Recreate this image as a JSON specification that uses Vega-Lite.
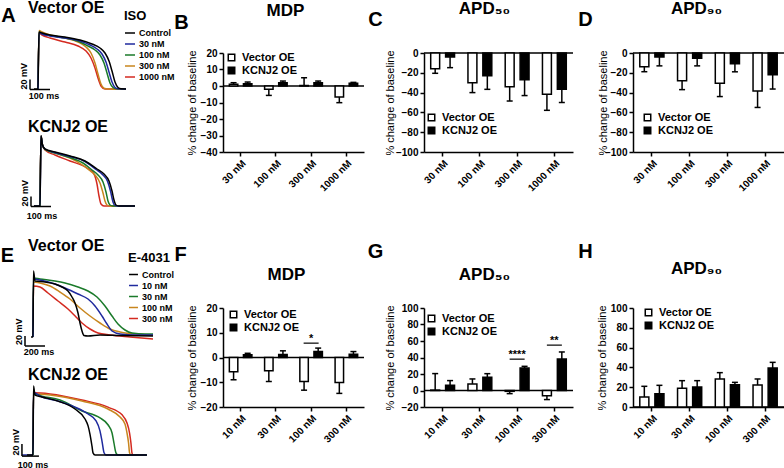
{
"$schema": "https://vega.github.io/schema/vega-lite/v6.json",
"padding": 0,
"config": {
 "font": "Liberation Sans",
 "view": {"stroke": null},
 "axis": {"domainColor": "black", "domainWidth": 1.5, "tickColor": "black", "tickWidth": 1.5, "tickSize": 4, "labelColor": "black", "labelFontSize": 10, "labelFontWeight": "bold", "grid": false, "titleColor": "black"},
 "axisX": {"labelAngle": -45, "titleFontSize": 20, "titleFontWeight": "bold", "titleAlign": "center", "titleBaseline": "middle", "labelPadding": 2},
 "axisY": {"titleFontSize": 11, "titleFontWeight": "normal", "titleBaseline": "middle", "labelPadding": 2},
 "title": {"fontSize": 17, "fontWeight": "bold", "color": "black", "baseline": "alphabetic"},
 "legend": {"labelColor": "black", "titleColor": "black"}
},
"datasets": {
 "isoVec": [
  {"c":"1000 nM","t":0,"v":-80},{"c":"1000 nM","t":5,"v":32},{"c":"1000 nM","t":20,"v":28},{"c":"1000 nM","t":60,"v":22},{"c":"1000 nM","t":135,"v":14},{"c":"1000 nM","t":200,"v":6},{"c":"1000 nM","t":240,"v":-4},{"c":"1000 nM","t":265,"v":-18},{"c":"1000 nM","t":285,"v":-38},{"c":"1000 nM","t":300,"v":-58},{"c":"1000 nM","t":315,"v":-74},{"c":"1000 nM","t":335,"v":-80},{"c":"1000 nM","t":440,"v":-80},
  {"c":"300 nM","t":0,"v":-80},{"c":"300 nM","t":5,"v":37},{"c":"300 nM","t":20,"v":34},{"c":"300 nM","t":60,"v":28},{"c":"300 nM","t":135,"v":22},{"c":"300 nM","t":200,"v":14},{"c":"300 nM","t":240,"v":4},{"c":"300 nM","t":265,"v":-8},{"c":"300 nM","t":285,"v":-28},{"c":"300 nM","t":300,"v":-50},{"c":"300 nM","t":315,"v":-70},{"c":"300 nM","t":330,"v":-78.6},{"c":"300 nM","t":350,"v":-80},{"c":"300 nM","t":440,"v":-80},
  {"c":"100 nM","t":0,"v":-80},{"c":"100 nM","t":5,"v":34},{"c":"100 nM","t":20,"v":31},{"c":"100 nM","t":60,"v":27},{"c":"100 nM","t":135,"v":22},{"c":"100 nM","t":210,"v":14},{"c":"100 nM","t":250,"v":6},{"c":"100 nM","t":285,"v":-2},{"c":"100 nM","t":310,"v":-12},{"c":"100 nM","t":330,"v":-28},{"c":"100 nM","t":345,"v":-48},{"c":"100 nM","t":360,"v":-68},{"c":"100 nM","t":375,"v":-77},{"c":"100 nM","t":390,"v":-79.6},{"c":"100 nM","t":440,"v":-80},
  {"c":"30 nM","t":0,"v":-80},{"c":"30 nM","t":5,"v":33},{"c":"30 nM","t":20,"v":30},{"c":"30 nM","t":60,"v":26},{"c":"30 nM","t":135,"v":22},{"c":"30 nM","t":210,"v":16},{"c":"30 nM","t":260,"v":8},{"c":"30 nM","t":295,"v":0},{"c":"30 nM","t":320,"v":-10},{"c":"30 nM","t":340,"v":-26},{"c":"30 nM","t":355,"v":-46},{"c":"30 nM","t":370,"v":-66},{"c":"30 nM","t":385,"v":-77},{"c":"30 nM","t":400,"v":-79.6},{"c":"30 nM","t":440,"v":-80},
  {"c":"Control","t":-20,"v":-80},{"c":"Control","t":0,"v":-80},{"c":"Control","t":5,"v":34},{"c":"Control","t":20,"v":32},{"c":"Control","t":60,"v":28},{"c":"Control","t":135,"v":24},{"c":"Control","t":210,"v":18},{"c":"Control","t":270,"v":10},{"c":"Control","t":310,"v":2},{"c":"Control","t":335,"v":-8},{"c":"Control","t":355,"v":-24},{"c":"Control","t":370,"v":-44},{"c":"Control","t":385,"v":-66},{"c":"Control","t":400,"v":-77},{"c":"Control","t":415,"v":-79.6},{"c":"Control","t":440,"v":-80}
 ],
 "isoK": [
  {"c":"1000 nM","t":0,"v":-80},{"c":"1000 nM","t":5,"v":60},{"c":"1000 nM","t":12.5,"v":42},{"c":"1000 nM","t":25,"v":32},{"c":"1000 nM","t":75,"v":22},{"c":"1000 nM","t":150,"v":10},{"c":"1000 nM","t":235,"v":-4},{"c":"1000 nM","t":270,"v":-16},{"c":"1000 nM","t":285,"v":-36},{"c":"1000 nM","t":295,"v":-60},{"c":"1000 nM","t":305,"v":-76},{"c":"1000 nM","t":320,"v":-80},{"c":"1000 nM","t":475,"v":-80},
  {"c":"300 nM","t":0,"v":-80},{"c":"300 nM","t":5,"v":60},{"c":"300 nM","t":12.5,"v":42},{"c":"300 nM","t":25,"v":33},{"c":"300 nM","t":75,"v":26},{"c":"300 nM","t":150,"v":16},{"c":"300 nM","t":205,"v":4},{"c":"300 nM","t":245,"v":-8},{"c":"300 nM","t":275,"v":-18},{"c":"300 nM","t":300,"v":-34},{"c":"300 nM","t":315,"v":-54},{"c":"300 nM","t":325,"v":-70},{"c":"300 nM","t":335,"v":-78},{"c":"300 nM","t":350,"v":-80},{"c":"300 nM","t":475,"v":-80},
  {"c":"100 nM","t":0,"v":-80},{"c":"100 nM","t":5,"v":60},{"c":"100 nM","t":12.5,"v":42},{"c":"100 nM","t":25,"v":33},{"c":"100 nM","t":75,"v":26},{"c":"100 nM","t":150,"v":17},{"c":"100 nM","t":215,"v":6},{"c":"100 nM","t":260,"v":-8},{"c":"100 nM","t":290,"v":-18},{"c":"100 nM","t":315,"v":-32},{"c":"100 nM","t":330,"v":-52},{"c":"100 nM","t":340,"v":-70},{"c":"100 nM","t":350,"v":-78},{"c":"100 nM","t":365,"v":-80},{"c":"100 nM","t":475,"v":-80},
  {"c":"30 nM","t":-30,"v":-80},{"c":"30 nM","t":0,"v":-80},{"c":"30 nM","t":5,"v":60},{"c":"30 nM","t":12.5,"v":42},{"c":"30 nM","t":25,"v":34},{"c":"30 nM","t":75,"v":27},{"c":"30 nM","t":150,"v":19},{"c":"30 nM","t":225,"v":9},{"c":"30 nM","t":280,"v":-7},{"c":"30 nM","t":312,"v":-17},{"c":"30 nM","t":338,"v":-31},{"c":"30 nM","t":353,"v":-51},{"c":"30 nM","t":363,"v":-69},{"c":"30 nM","t":372,"v":-78},{"c":"30 nM","t":385,"v":-80},{"c":"30 nM","t":475,"v":-80},
  {"c":"Control","t":-30,"v":-80},{"c":"Control","t":0,"v":-80},{"c":"Control","t":5,"v":60},{"c":"Control","t":12.5,"v":42},{"c":"Control","t":25,"v":34},{"c":"Control","t":75,"v":28},{"c":"Control","t":150,"v":20},{"c":"Control","t":225,"v":10},{"c":"Control","t":285,"v":-6},{"c":"Control","t":320,"v":-16},{"c":"Control","t":345,"v":-30},{"c":"Control","t":360,"v":-50},{"c":"Control","t":370,"v":-68},{"c":"Control","t":380,"v":-78},{"c":"Control","t":395,"v":-80},{"c":"Control","t":475,"v":-80}
 ],
 "e4Vec": [
  {"c":"300 nM","t":0,"v":-80},{"c":"300 nM","t":5,"v":22},{"c":"300 nM","t":70,"v":20},{"c":"300 nM","t":150,"v":8},{"c":"300 nM","t":250,"v":-8},{"c":"300 nM","t":350,"v":-24},{"c":"300 nM","t":430,"v":-40},{"c":"300 nM","t":490,"v":-52},{"c":"300 nM","t":570,"v":-64},{"c":"300 nM","t":650,"v":-72},{"c":"300 nM","t":770,"v":-76},{"c":"300 nM","t":970,"v":-80},{"c":"300 nM","t":1200,"v":-84},
  {"c":"100 nM","t":0,"v":-80},{"c":"100 nM","t":5,"v":30},{"c":"100 nM","t":70,"v":28},{"c":"100 nM","t":170,"v":22},{"c":"100 nM","t":270,"v":10},{"c":"100 nM","t":370,"v":-4},{"c":"100 nM","t":470,"v":-22},{"c":"100 nM","t":570,"v":-38},{"c":"100 nM","t":670,"v":-52},{"c":"100 nM","t":770,"v":-64},{"c":"100 nM","t":870,"v":-70},{"c":"100 nM","t":1020,"v":-74},{"c":"100 nM","t":1200,"v":-76},
  {"c":"30 nM","t":0,"v":-80},{"c":"30 nM","t":5,"v":38},{"c":"30 nM","t":70,"v":36},{"c":"30 nM","t":220,"v":32},{"c":"30 nM","t":320,"v":28},{"c":"30 nM","t":450,"v":20},{"c":"30 nM","t":550,"v":12},{"c":"30 nM","t":640,"v":0},{"c":"30 nM","t":720,"v":-18},{"c":"30 nM","t":790,"v":-38},{"c":"30 nM","t":850,"v":-54},{"c":"30 nM","t":920,"v":-66},{"c":"30 nM","t":990,"v":-72},{"c":"30 nM","t":1120,"v":-74},{"c":"30 nM","t":1200,"v":-74},
  {"c":"10 nM","t":0,"v":-80},{"c":"10 nM","t":5,"v":36},{"c":"10 nM","t":70,"v":34},{"c":"10 nM","t":220,"v":26},{"c":"10 nM","t":320,"v":18},{"c":"10 nM","t":450,"v":6},{"c":"10 nM","t":550,"v":-4},{"c":"10 nM","t":620,"v":-18},{"c":"10 nM","t":690,"v":-38},{"c":"10 nM","t":740,"v":-54},{"c":"10 nM","t":790,"v":-68},{"c":"10 nM","t":870,"v":-74},{"c":"10 nM","t":1020,"v":-76},{"c":"10 nM","t":1200,"v":-76},
  {"c":"Control","t":-20,"v":-80},{"c":"Control","t":0,"v":-80},{"c":"Control","t":5,"v":52},{"c":"Control","t":20,"v":32},{"c":"Control","t":120,"v":30},{"c":"Control","t":220,"v":26},{"c":"Control","t":290,"v":20},{"c":"Control","t":350,"v":12},{"c":"Control","t":390,"v":0},{"c":"Control","t":420,"v":-12},{"c":"Control","t":450,"v":-32},{"c":"Control","t":470,"v":-52},{"c":"Control","t":490,"v":-68},{"c":"Control","t":510,"v":-77},{"c":"Control","t":550,"v":-78},{"c":"Control","t":670,"v":-76},{"c":"Control","t":870,"v":-77},{"c":"Control","t":1200,"v":-78}
 ],
 "e4K": [
  {"c":"300 nM","t":0,"v":-80},{"c":"300 nM","t":3,"v":33},{"c":"300 nM","t":100,"v":31},{"c":"300 nM","t":288,"v":20},{"c":"300 nM","t":441,"v":7},{"c":"300 nM","t":524,"v":-7},{"c":"300 nM","t":553,"v":-22},{"c":"300 nM","t":568,"v":-40},{"c":"300 nM","t":576,"v":-58},{"c":"300 nM","t":582,"v":-76},{"c":"300 nM","t":588,"v":-80},{"c":"300 nM","t":670,"v":-80},
  {"c":"100 nM","t":0,"v":-80},{"c":"100 nM","t":3,"v":31},{"c":"100 nM","t":100,"v":29},{"c":"100 nM","t":288,"v":18},{"c":"100 nM","t":441,"v":3.6},{"c":"100 nM","t":512,"v":-11},{"c":"100 nM","t":541,"v":-23.6},{"c":"100 nM","t":553,"v":-40},{"c":"100 nM","t":562,"v":-58},{"c":"100 nM","t":568,"v":-76},{"c":"100 nM","t":576,"v":-80},{"c":"100 nM","t":670,"v":-80},
  {"c":"30 nM","t":0,"v":-80},{"c":"30 nM","t":3,"v":31},{"c":"30 nM","t":53,"v":27},{"c":"30 nM","t":159,"v":20},{"c":"30 nM","t":288,"v":0},{"c":"30 nM","t":394,"v":-12.7},{"c":"30 nM","t":441,"v":-25},{"c":"30 nM","t":465,"v":-40},{"c":"30 nM","t":476,"v":-58},{"c":"30 nM","t":488,"v":-76},{"c":"30 nM","t":500,"v":-80},{"c":"30 nM","t":670,"v":-80},
  {"c":"10 nM","t":-65,"v":-80},{"c":"10 nM","t":0,"v":-80},{"c":"10 nM","t":3,"v":33},{"c":"10 nM","t":53,"v":25.5},{"c":"10 nM","t":147,"v":18},{"c":"10 nM","t":247,"v":7},{"c":"10 nM","t":324,"v":-5.5},{"c":"10 nM","t":371,"v":-18},{"c":"10 nM","t":394,"v":-36},{"c":"10 nM","t":406,"v":-55},{"c":"10 nM","t":418,"v":-76},{"c":"10 nM","t":429,"v":-80},{"c":"10 nM","t":670,"v":-80},
  {"c":"Control","t":-35,"v":-80},{"c":"Control","t":0,"v":-80},{"c":"Control","t":3,"v":45.5},{"c":"Control","t":12,"v":29},{"c":"Control","t":53,"v":25.5},{"c":"Control","t":147,"v":18},{"c":"Control","t":247,"v":3.6},{"c":"Control","t":306,"v":-14.5},{"c":"Control","t":324,"v":-27},{"c":"Control","t":335,"v":-42},{"c":"Control","t":347,"v":-64},{"c":"Control","t":353,"v":-76},{"c":"Control","t":365,"v":-80},{"c":"Control","t":670,"v":-80}
 ],
 "barA1": [{"t0":-40,"t1":-40,"v0":-81,"v1":-61},{"t0":-40,"t1":60,"v0":-81,"v1":-81}],
 "lblA1": [{"k":"v","t":-45,"v":-81,"label":"20 mV"},{"k":"h","t":30,"v":-86,"label":"100 ms"}],
 "barA2": [{"t0":-45,"t1":-45,"v0":-81,"v1":-61},{"t0":-45,"t1":55,"v0":-81,"v1":-81}],
 "lblA2": [{"k":"v","t":-50,"v":-81,"label":"20 mV"},{"k":"h","t":10,"v":-92,"label":"100 ms"}],
 "barE1": [{"t0":-80,"t1":-80,"v0":-98,"v1":-78},{"t0":-80,"t1":120,"v0":-98,"v1":-98}],
 "lblE1": [{"k":"v","t":-90,"v":-96,"label":"20 mV"},{"k":"h","t":60,"v":-102,"label":"200 ms"}],
 "barE2": [{"t0":-65,"t1":-65,"v0":-82,"v1":-60},{"t0":-65,"t1":35,"v0":-82,"v1":-82}],
 "lblE2": [{"k":"v","t":-70,"v":-81,"label":"20 mV"},{"k":"h","t":0,"v":-90,"label":"100 ms"}],
 "isoMDP": [
  {"conc":"30 nM","grp":"Vector OE","mean":1,"err":2},{"conc":"30 nM","grp":"KCNJ2 OE","mean":1.4,"err":2.4},
  {"conc":"100 nM","grp":"Vector OE","mean":-2,"err":-5.7},{"conc":"100 nM","grp":"KCNJ2 OE","mean":2,"err":3},
  {"conc":"300 nM","grp":"Vector OE","mean":0.3,"err":5},{"conc":"300 nM","grp":"KCNJ2 OE","mean":2,"err":3},
  {"conc":"1000 nM","grp":"Vector OE","mean":-6.7,"err":-10.1},{"conc":"1000 nM","grp":"KCNJ2 OE","mean":1.6,"err":2.2}],
 "isoAPD50": [
  {"conc":"30 nM","grp":"Vector OE","mean":-15.8,"err":-20.5},{"conc":"30 nM","grp":"KCNJ2 OE","mean":-4,"err":-14.8},
  {"conc":"100 nM","grp":"Vector OE","mean":-30,"err":-40},{"conc":"100 nM","grp":"KCNJ2 OE","mean":-23,"err":-36.7},
  {"conc":"300 nM","grp":"Vector OE","mean":-34,"err":-48.5},{"conc":"300 nM","grp":"KCNJ2 OE","mean":-27,"err":-43},
  {"conc":"1000 nM","grp":"Vector OE","mean":-41.7,"err":-57.9},{"conc":"1000 nM","grp":"KCNJ2 OE","mean":-36.7,"err":-50}],
 "isoAPD90": [
  {"conc":"30 nM","grp":"Vector OE","mean":-14,"err":-18.9},{"conc":"30 nM","grp":"KCNJ2 OE","mean":-4,"err":-13},
  {"conc":"100 nM","grp":"Vector OE","mean":-28,"err":-37},{"conc":"100 nM","grp":"KCNJ2 OE","mean":-5.4,"err":-13},
  {"conc":"300 nM","grp":"Vector OE","mean":-30.6,"err":-44},{"conc":"300 nM","grp":"KCNJ2 OE","mean":-10.8,"err":-19},
  {"conc":"1000 nM","grp":"Vector OE","mean":-38.4,"err":-55},{"conc":"1000 nM","grp":"KCNJ2 OE","mean":-22,"err":-36.4}],
 "e4MDP": [
  {"conc":"10 nM","grp":"Vector OE","mean":-5.8,"err":-9},{"conc":"10 nM","grp":"KCNJ2 OE","mean":1.1,"err":1.7},
  {"conc":"30 nM","grp":"Vector OE","mean":-5.4,"err":-9.7},{"conc":"30 nM","grp":"KCNJ2 OE","mean":1.2,"err":2.7},
  {"conc":"100 nM","grp":"Vector OE","mean":-9.7,"err":-13.2},{"conc":"100 nM","grp":"KCNJ2 OE","mean":2.4,"err":3.8},
  {"conc":"300 nM","grp":"Vector OE","mean":-10.1,"err":-14.5},{"conc":"300 nM","grp":"KCNJ2 OE","mean":1.3,"err":2.4}],
 "e4APD50": [
  {"conc":"10 nM","grp":"Vector OE","mean":0.5,"err":20.5},{"conc":"10 nM","grp":"KCNJ2 OE","mean":6.3,"err":12},
  {"conc":"30 nM","grp":"Vector OE","mean":8,"err":14},{"conc":"30 nM","grp":"KCNJ2 OE","mean":16,"err":20.4},
  {"conc":"100 nM","grp":"Vector OE","mean":-1,"err":-3.8},{"conc":"100 nM","grp":"KCNJ2 OE","mean":27.3,"err":29.3},
  {"conc":"300 nM","grp":"Vector OE","mean":-6.3,"err":-11},{"conc":"300 nM","grp":"KCNJ2 OE","mean":38.2,"err":46.7}],
 "e4APD90": [
  {"conc":"10 nM","grp":"Vector OE","mean":10.1,"err":20.9},{"conc":"10 nM","grp":"KCNJ2 OE","mean":13.5,"err":21.9},
  {"conc":"30 nM","grp":"Vector OE","mean":18.9,"err":26.6},{"conc":"30 nM","grp":"KCNJ2 OE","mean":20.2,"err":26.6},
  {"conc":"100 nM","grp":"Vector OE","mean":28.3,"err":34.7},{"conc":"100 nM","grp":"KCNJ2 OE","mean":22.6,"err":24.9},
  {"conc":"300 nM","grp":"Vector OE","mean":22.2,"err":28.3},{"conc":"300 nM","grp":"KCNJ2 OE","mean":39.4,"err":45.1}],
 "sigF": [{"conc":"100 nM","y":5.8,"label":"*"}],
 "sigG": [{"conc":"100 nM","y":38,"label":"****"},{"conc":"300 nM","y":55,"label":"**"}],
 "zero": [{"zero": 0}]
},
"bounds": "flush",
"spacing": 201,
"resolve": {"scale": {"color": "independent", "fill": "independent", "xOffset": "independent"}, "legend": {"color": "independent", "fill": "independent"}},
"hconcat": [
 {"vconcat": [
  {"width": 110, "height": 74,
   "title": {"text": "Vector OE", "anchor": "start", "frame": "group", "dx": 6, "offset": -11, "fontSize": 16},
   "layer": [
    {"data": {"name": "isoVec"}, "mark": {"type": "line", "strokeWidth": 1.5, "interpolate": "monotone"},
     "encoding": {
      "x": {"field": "t", "type": "quantitative", "scale": {"domain": [-80, 470], "nice": false, "zero": false}, "axis": {"domain": false, "ticks": false, "labels": false, "title": "A", "titleX": -14, "titleY": -86}},
      "y": {"field": "v", "type": "quantitative", "scale": {"domain": [-104, 44], "nice": false, "zero": false}, "axis": null},
      "color": {"field": "c", "type": "nominal", "scale": {"domain": ["Control","30 nM","100 nM","300 nM","1000 nM"], "range": ["#000000","#1f2a9e","#1a7a2a","#c8861e","#d42a20"]},
        "legend": {"title": "ISO", "orient": "none", "legendX": 102, "legendY": -17, "titleAnchor": "start", "titleFontSize": 13, "titleFontWeight": "bold", "labelFontSize": 9, "labelFontWeight": "bold", "symbolSize": 100, "symbolStrokeWidth": 1.5, "rowPadding": 0, "titlePadding": 4, "labelOffset": 3}}
     }},
    {"data": {"name": "barA1"}, "mark": {"type": "rule", "color": "black", "strokeWidth": 1.5},
     "encoding": {"x": {"field": "t0", "type": "quantitative", "scale": {"domain": [-80, 470], "nice": false, "zero": false}, "axis": {"domain": false, "ticks": false, "labels": false, "title": "A", "titleX": -14, "titleY": -86}}, "x2": {"field": "t1"}, "y": {"field": "v0", "type": "quantitative", "axis": null}, "y2": {"field": "v1"}}},
    {"data": {"name": "lblA1"}, "transform": [{"filter": "datum.k == 'v'"}], "mark": {"type": "text", "angle": 270, "align": "left", "baseline": "bottom", "fontSize": 9, "fontWeight": "bold"},
     "encoding": {"x": {"field": "t", "type": "quantitative", "scale": {"domain": [-80, 470], "nice": false, "zero": false}, "axis": {"domain": false, "ticks": false, "labels": false, "title": "A", "titleX": -14, "titleY": -86}}, "y": {"field": "v", "type": "quantitative", "axis": null}, "text": {"field": "label"}}},
    {"data": {"name": "lblA1"}, "transform": [{"filter": "datum.k == 'h'"}], "mark": {"type": "text", "align": "center", "baseline": "top", "fontSize": 9, "fontWeight": "bold"},
     "encoding": {"x": {"field": "t", "type": "quantitative", "scale": {"domain": [-80, 470], "nice": false, "zero": false}, "axis": {"domain": false, "ticks": false, "labels": false, "title": "A", "titleX": -14, "titleY": -86}}, "y": {"field": "v", "type": "quantitative", "axis": null}, "text": {"field": "label"}}}
   ]},
  {"width": 120, "height": 102,
   "title": {"text": "KCNJ2 OE", "anchor": "start", "frame": "group", "dx": 6, "offset": -4, "fontSize": 16},
   "layer": [
    {"data": {"name": "isoK"}, "mark": {"type": "line", "strokeWidth": 1.5, "interpolate": "monotone"},
     "encoding": {
      "x": {"field": "t", "type": "quantitative", "scale": {"domain": [-90, 510], "nice": false, "zero": false}, "axis": null},
      "y": {"field": "v", "type": "quantitative", "scale": {"domain": [-134, 70], "nice": false, "zero": false}, "axis": null},
      "color": {"field": "c", "type": "nominal", "scale": {"domain": ["Control","30 nM","100 nM","300 nM","1000 nM"], "range": ["#000000","#1f2a9e","#1a7a2a","#c8861e","#d42a20"]}, "legend": null}
     }},
    {"data": {"name": "barA2"}, "mark": {"type": "rule", "color": "black", "strokeWidth": 1.5},
     "encoding": {"x": {"field": "t0", "type": "quantitative", "axis": null}, "x2": {"field": "t1"}, "y": {"field": "v0", "type": "quantitative", "axis": null}, "y2": {"field": "v1"}}},
    {"data": {"name": "lblA2"}, "transform": [{"filter": "datum.k == 'v'"}], "mark": {"type": "text", "angle": 270, "align": "left", "baseline": "bottom", "fontSize": 9, "fontWeight": "bold"},
     "encoding": {"x": {"field": "t", "type": "quantitative", "axis": null}, "y": {"field": "v", "type": "quantitative", "axis": null}, "text": {"field": "label"}}},
    {"data": {"name": "lblA2"}, "transform": [{"filter": "datum.k == 'h'"}], "mark": {"type": "text", "align": "center", "baseline": "top", "fontSize": 9, "fontWeight": "bold"},
     "encoding": {"x": {"field": "t", "type": "quantitative", "axis": null}, "y": {"field": "v", "type": "quantitative", "axis": null}, "text": {"field": "label"}}}
   ]},
  {"width": 141, "height": 88,
   "title": {"text": "Vector OE", "anchor": "start", "frame": "group", "dx": 6, "offset": -9, "fontSize": 16},
   "layer": [
    {"data": {"name": "e4Vec"}, "mark": {"type": "line", "strokeWidth": 1.5, "interpolate": "monotone"},
     "encoding": {
      "x": {"field": "t", "type": "quantitative", "scale": {"domain": [-110, 1300], "nice": false, "zero": false}, "axis": {"domain": false, "ticks": false, "labels": false, "title": "E", "titleX": -15, "titleY": -96}},
      "y": {"field": "v", "type": "quantitative", "scale": {"domain": [-108, 68], "nice": false, "zero": false}, "axis": null},
      "color": {"field": "c", "type": "nominal", "scale": {"domain": ["Control","10 nM","30 nM","100 nM","300 nM"], "range": ["#000000","#1f2a9e","#1a7a2a","#c8861e","#d42a20"]},
        "legend": {"title": "E-4031", "orient": "none", "legendX": 106, "legendY": -11, "titleAnchor": "start", "titleFontSize": 13, "titleFontWeight": "bold", "labelFontSize": 9, "labelFontWeight": "bold", "symbolSize": 80, "symbolStrokeWidth": 1.5, "rowPadding": 0, "titlePadding": 4, "labelOffset": 3}}
     }},
    {"data": {"name": "barE1"}, "mark": {"type": "rule", "color": "black", "strokeWidth": 1.5},
     "encoding": {"x": {"field": "t0", "type": "quantitative", "scale": {"domain": [-110, 1300], "nice": false, "zero": false}, "axis": {"domain": false, "ticks": false, "labels": false, "title": "E", "titleX": -15, "titleY": -96}}, "x2": {"field": "t1"}, "y": {"field": "v0", "type": "quantitative", "axis": null}, "y2": {"field": "v1"}}},
    {"data": {"name": "lblE1"}, "transform": [{"filter": "datum.k == 'v'"}], "mark": {"type": "text", "angle": 270, "align": "left", "baseline": "bottom", "fontSize": 9, "fontWeight": "bold"},
     "encoding": {"x": {"field": "t", "type": "quantitative", "scale": {"domain": [-110, 1300], "nice": false, "zero": false}, "axis": {"domain": false, "ticks": false, "labels": false, "title": "E", "titleX": -15, "titleY": -96}}, "y": {"field": "v", "type": "quantitative", "axis": null}, "text": {"field": "label"}}},
    {"data": {"name": "lblE1"}, "transform": [{"filter": "datum.k == 'h'"}], "mark": {"type": "text", "align": "center", "baseline": "top", "fontSize": 9, "fontWeight": "bold"},
     "encoding": {"x": {"field": "t", "type": "quantitative", "scale": {"domain": [-110, 1300], "nice": false, "zero": false}, "axis": {"domain": false, "ticks": false, "labels": false, "title": "E", "titleX": -15, "titleY": -96}}, "y": {"field": "v", "type": "quantitative", "axis": null}, "text": {"field": "label"}}}
   ]},
  {"width": 128, "height": 82,
   "title": {"text": "KCNJ2 OE", "anchor": "start", "frame": "group", "dx": 6, "offset": -2, "fontSize": 16},
   "layer": [
    {"data": {"name": "e4K"}, "mark": {"type": "line", "strokeWidth": 1.5, "interpolate": "monotone"},
     "encoding": {
      "x": {"field": "t", "type": "quantitative", "scale": {"domain": [-64.7, 688.2], "nice": false, "zero": false}, "axis": null},
      "y": {"field": "v", "type": "quantitative", "scale": {"domain": [-94.5, 54.5], "nice": false, "zero": false}, "axis": null},
      "color": {"field": "c", "type": "nominal", "scale": {"domain": ["Control","10 nM","30 nM","100 nM","300 nM"], "range": ["#000000","#1f2a9e","#1a7a2a","#c8861e","#d42a20"]}, "legend": null}
     }},
    {"data": {"name": "barE2"}, "mark": {"type": "rule", "color": "black", "strokeWidth": 1.5},
     "encoding": {"x": {"field": "t0", "type": "quantitative", "axis": null}, "x2": {"field": "t1"}, "y": {"field": "v0", "type": "quantitative", "axis": null}, "y2": {"field": "v1"}}},
    {"data": {"name": "lblE2"}, "transform": [{"filter": "datum.k == 'v'"}], "mark": {"type": "text", "angle": 270, "align": "left", "baseline": "bottom", "fontSize": 9, "fontWeight": "bold"},
     "encoding": {"x": {"field": "t", "type": "quantitative", "axis": null}, "y": {"field": "v", "type": "quantitative", "axis": null}, "text": {"field": "label"}}},
    {"data": {"name": "lblE2"}, "transform": [{"filter": "datum.k == 'h'"}], "mark": {"type": "text", "align": "center", "baseline": "top", "fontSize": 9, "fontWeight": "bold"},
     "encoding": {"x": {"field": "t", "type": "quantitative", "axis": null}, "y": {"field": "v", "type": "quantitative", "axis": null}, "text": {"field": "label"}}}
   ]}
 ], "spacing": 30, "bounds": "flush",
 "resolve": {"scale": {"color": "independent", "fill": "independent", "xOffset": "independent"}, "legend": {"color": "independent", "fill": "independent"}}},

 {"hconcat": [
 {"vconcat": [
  {"width": 141, "height": 16, "data": {"values": []}, "mark": "point"},
  {"width": 141, "height": 99,
   "title": {"text": "MDP", "anchor": "middle", "frame": "group", "dx": -8, "offset": -8},
   "layer": [
    {"data": {"name": "zero"}, "mark": {"type": "rule", "color": "black", "strokeWidth": 1.5}, "encoding": {"y": {"field": "zero", "type": "quantitative", "scale": {"domain": [-40, 20], "nice": false, "zero": false}, "axis": {"values": [-40,-30,-20,-10,0,10,20], "title": "% change of baseline", "titleX": -31}}}},
    {"data": {"name": "isoMDP"}, "mark": {"type": "bar", "stroke": "black", "strokeWidth": 1.5},
     "encoding": {
      "x": {"field": "conc", "type": "nominal", "scale": {"domain": ["30 nM","100 nM","300 nM","1000 nM"], "paddingInner": 0, "paddingOuter": 0}, "axis": {"title": "B", "titleX": -42, "titleY": -130}},
      "xOffset": {"field": "grp", "type": "nominal", "scale": {"domain": ["Vector OE","KCNJ2 OE"], "paddingInner": 0.4, "paddingOuter": 0.45}},
      "y": {"field": "mean", "type": "quantitative", "scale": {"domain": [-40, 20], "nice": false, "zero": false}, "axis": {"values": [-40,-30,-20,-10,0,10,20], "title": "% change of baseline", "titleX": -31}},
      "y2": {"datum": 0},
      "fill": {"field": "grp", "type": "nominal", "scale": {"domain": ["Vector OE","KCNJ2 OE"], "range": ["white","black"]},
        "legend": {"title": null, "orient": "none", "legendX": 3, "legendY": -1, "symbolType": "square", "symbolSize": 42, "symbolStrokeColor": "black", "symbolStrokeWidth": 1.5, "labelFontSize": 11, "labelFontWeight": "bold", "rowPadding": 0, "labelOffset": 5}}
     }},
    {"data": {"name": "isoMDP"}, "mark": {"type": "rule", "color": "black", "strokeWidth": 1.5},
     "encoding": {"x": {"field": "conc", "type": "nominal", "scale": {"domain": ["30 nM","100 nM","300 nM","1000 nM"], "paddingInner": 0, "paddingOuter": 0}, "axis": {"title": "B", "titleX": -42, "titleY": -130}}, "xOffset": {"field": "grp", "type": "nominal"}, "y": {"field": "mean", "type": "quantitative", "scale": {"domain": [-40, 20], "nice": false, "zero": false}, "axis": {"values": [-40,-30,-20,-10,0,10,20], "title": "% change of baseline", "titleX": -31}}, "y2": {"field": "err"}}},
    {"data": {"name": "isoMDP"}, "mark": {"type": "tick", "color": "black", "thickness": 1.5, "size": 6, "opacity": 1, "orient": "horizontal"},
     "encoding": {"x": {"field": "conc", "type": "nominal", "scale": {"domain": ["30 nM","100 nM","300 nM","1000 nM"], "paddingInner": 0, "paddingOuter": 0}, "axis": {"title": "B", "titleX": -42, "titleY": -130}}, "xOffset": {"field": "grp", "type": "nominal"}, "y": {"field": "err", "type": "quantitative", "scale": {"domain": [-40, 20], "nice": false, "zero": false}, "axis": {"values": [-40,-30,-20,-10,0,10,20], "title": "% change of baseline", "titleX": -31}}}}
   ]},
  {"width": 141, "height": 136, "data": {"values": []}, "mark": "point"},
  {"width": 141, "height": 99,
   "title": {"text": "MDP", "anchor": "middle", "frame": "group", "dx": -7, "offset": -40},
   "layer": [
    {"data": {"name": "zero"}, "mark": {"type": "rule", "color": "black", "strokeWidth": 1.5}, "encoding": {"y": {"field": "zero", "type": "quantitative", "scale": {"domain": [-20, 20], "nice": false, "zero": false}, "axis": {"values": [-20,-10,0,10,20], "title": "% change of baseline", "titleX": -31}}}},
    {"data": {"name": "e4MDP"}, "mark": {"type": "bar", "stroke": "black", "strokeWidth": 1.5},
     "encoding": {
      "x": {"field": "conc", "type": "nominal", "scale": {"domain": ["10 nM","30 nM","100 nM","300 nM"], "paddingInner": 0, "paddingOuter": 0}, "axis": {"title": "F", "titleX": -43, "titleY": -153}},
      "xOffset": {"field": "grp", "type": "nominal", "scale": {"domain": ["Vector OE","KCNJ2 OE"], "paddingInner": 0.4, "paddingOuter": 0.45}},
      "y": {"field": "mean", "type": "quantitative", "scale": {"domain": [-20, 20], "nice": false, "zero": false}, "axis": {"values": [-20,-10,0,10,20], "title": "% change of baseline", "titleX": -31}},
      "y2": {"datum": 0},
      "fill": {"field": "grp", "type": "nominal", "scale": {"domain": ["Vector OE","KCNJ2 OE"], "range": ["white","black"]},
        "legend": {"title": null, "orient": "none", "legendX": 5, "legendY": 1, "symbolType": "square", "symbolSize": 42, "symbolStrokeColor": "black", "symbolStrokeWidth": 1.5, "labelFontSize": 11, "labelFontWeight": "bold", "rowPadding": 0, "labelOffset": 5}}
     }},
    {"data": {"name": "e4MDP"}, "mark": {"type": "rule", "color": "black", "strokeWidth": 1.5},
     "encoding": {"x": {"field": "conc", "type": "nominal", "scale": {"domain": ["10 nM","30 nM","100 nM","300 nM"], "paddingInner": 0, "paddingOuter": 0}, "axis": {"title": "F", "titleX": -43, "titleY": -153}}, "xOffset": {"field": "grp", "type": "nominal"}, "y": {"field": "mean", "type": "quantitative", "scale": {"domain": [-20, 20], "nice": false, "zero": false}, "axis": {"values": [-20,-10,0,10,20], "title": "% change of baseline", "titleX": -31}}, "y2": {"field": "err"}}},
    {"data": {"name": "e4MDP"}, "mark": {"type": "tick", "color": "black", "thickness": 1.5, "size": 6, "opacity": 1, "orient": "horizontal"},
     "encoding": {"x": {"field": "conc", "type": "nominal", "scale": {"domain": ["10 nM","30 nM","100 nM","300 nM"], "paddingInner": 0, "paddingOuter": 0}, "axis": {"title": "F", "titleX": -43, "titleY": -153}}, "xOffset": {"field": "grp", "type": "nominal"}, "y": {"field": "err", "type": "quantitative", "scale": {"domain": [-20, 20], "nice": false, "zero": false}, "axis": {"values": [-20,-10,0,10,20], "title": "% change of baseline", "titleX": -31}}}},
    {"data": {"name": "sigF"}, "mark": {"type": "tick", "color": "black", "thickness": 1.2, "size": 15, "opacity": 1, "orient": "horizontal"},
     "encoding": {"x": {"field": "conc", "type": "nominal", "scale": {"domain": ["10 nM","30 nM","100 nM","300 nM"], "paddingInner": 0, "paddingOuter": 0}, "axis": {"title": "F", "titleX": -43, "titleY": -153}}, "y": {"field": "y", "type": "quantitative", "scale": {"domain": [-20, 20], "nice": false, "zero": false}, "axis": {"values": [-20,-10,0,10,20], "title": "% change of baseline", "titleX": -31}}}},
    {"data": {"name": "sigF"}, "mark": {"type": "text", "fontSize": 11, "fontWeight": "bold", "baseline": "alphabetic", "dy": -1},
     "encoding": {"x": {"field": "conc", "type": "nominal", "scale": {"domain": ["10 nM","30 nM","100 nM","300 nM"], "paddingInner": 0, "paddingOuter": 0}, "axis": {"title": "F", "titleX": -43, "titleY": -153}}, "y": {"field": "y", "type": "quantitative", "scale": {"domain": [-20, 20], "nice": false, "zero": false}, "axis": {"values": [-20,-10,0,10,20], "title": "% change of baseline", "titleX": -31}}, "text": {"field": "label"}}}
   ]}
 ], "spacing": 10, "bounds": "flush",
 "resolve": {"scale": {"color": "independent", "fill": "independent", "xOffset": "independent"}, "legend": {"color": "independent", "fill": "independent"}}},

 {"hconcat": [
 {"vconcat": [
  {"width": 149, "height": 16, "data": {"values": []}, "mark": "point"},
  {"width": 149, "height": 99,
   "title": {"text": "APD₅₀", "anchor": "middle", "frame": "group", "dx": -14, "offset": -9},
   "layer": [
    {"data": {"name": "zero"}, "mark": {"type": "rule", "color": "black", "strokeWidth": 1.5}, "encoding": {"y": {"field": "zero", "type": "quantitative", "scale": {"domain": [-100, 0], "nice": false, "zero": false}, "axis": {"values": [-100,-80,-60,-40,-20,0], "title": "% change of baseline", "titleX": -34}}}},
    {"data": {"name": "isoAPD50"}, "mark": {"type": "bar", "stroke": "black", "strokeWidth": 1.5},
     "encoding": {
      "x": {"field": "conc", "type": "nominal", "scale": {"domain": ["30 nM","100 nM","300 nM","1000 nM"], "paddingInner": 0, "paddingOuter": 0}, "axis": {"title": "C", "titleX": -49, "titleY": -133}},
      "xOffset": {"field": "grp", "type": "nominal", "scale": {"domain": ["Vector OE","KCNJ2 OE"], "paddingInner": 0.4, "paddingOuter": 0.45}},
      "y": {"field": "mean", "type": "quantitative", "scale": {"domain": [-100, 0], "nice": false, "zero": false}, "axis": {"values": [-100,-80,-60,-40,-20,0], "title": "% change of baseline", "titleX": -34}},
      "y2": {"datum": 0},
      "fill": {"field": "grp", "type": "nominal", "scale": {"domain": ["Vector OE","KCNJ2 OE"], "range": ["white","black"]},
        "legend": {"title": null, "orient": "none", "legendX": 2, "legendY": 59, "symbolType": "square", "symbolSize": 42, "symbolStrokeColor": "black", "symbolStrokeWidth": 1.5, "labelFontSize": 11, "labelFontWeight": "bold", "rowPadding": 0, "labelOffset": 5}}
     }},
    {"data": {"name": "isoAPD50"}, "mark": {"type": "rule", "color": "black", "strokeWidth": 1.5},
     "encoding": {"x": {"field": "conc", "type": "nominal", "scale": {"domain": ["30 nM","100 nM","300 nM","1000 nM"], "paddingInner": 0, "paddingOuter": 0}, "axis": {"title": "C", "titleX": -49, "titleY": -133}}, "xOffset": {"field": "grp", "type": "nominal"}, "y": {"field": "mean", "type": "quantitative", "scale": {"domain": [-100, 0], "nice": false, "zero": false}, "axis": {"values": [-100,-80,-60,-40,-20,0], "title": "% change of baseline", "titleX": -34}}, "y2": {"field": "err"}}},
    {"data": {"name": "isoAPD50"}, "mark": {"type": "tick", "color": "black", "thickness": 1.5, "size": 6, "opacity": 1, "orient": "horizontal"},
     "encoding": {"x": {"field": "conc", "type": "nominal", "scale": {"domain": ["30 nM","100 nM","300 nM","1000 nM"], "paddingInner": 0, "paddingOuter": 0}, "axis": {"title": "C", "titleX": -49, "titleY": -133}}, "xOffset": {"field": "grp", "type": "nominal"}, "y": {"field": "err", "type": "quantitative", "scale": {"domain": [-100, 0], "nice": false, "zero": false}, "axis": {"values": [-100,-80,-60,-40,-20,0], "title": "% change of baseline", "titleX": -34}}}}
   ]},
  {"width": 149, "height": 136, "data": {"values": []}, "mark": "point"},
  {"width": 149, "height": 99,
   "title": {"text": "APD₅₀", "anchor": "middle", "frame": "group", "dx": -14, "offset": -43},
   "layer": [
    {"data": {"name": "zero"}, "mark": {"type": "rule", "color": "black", "strokeWidth": 1.5}, "encoding": {"y": {"field": "zero", "type": "quantitative", "scale": {"domain": [-20, 100], "nice": false, "zero": false}, "axis": {"values": [-20,0,20,40,60,80,100], "title": "% change of baseline", "titleX": -34}}}},
    {"data": {"name": "e4APD50"}, "mark": {"type": "bar", "stroke": "black", "strokeWidth": 1.5},
     "encoding": {
      "x": {"field": "conc", "type": "nominal", "scale": {"domain": ["10 nM","30 nM","100 nM","300 nM"], "paddingInner": 0, "paddingOuter": 0}, "axis": {"title": "G", "titleX": -49, "titleY": -156}},
      "xOffset": {"field": "grp", "type": "nominal", "scale": {"domain": ["Vector OE","KCNJ2 OE"], "paddingInner": 0.4, "paddingOuter": 0.45}},
      "y": {"field": "mean", "type": "quantitative", "scale": {"domain": [-20, 100], "nice": false, "zero": false}, "axis": {"values": [-20,0,20,40,60,80,100], "title": "% change of baseline", "titleX": -34}},
      "y2": {"datum": 0},
      "fill": {"field": "grp", "type": "nominal", "scale": {"domain": ["Vector OE","KCNJ2 OE"], "range": ["white","black"]},
        "legend": {"title": null, "orient": "none", "legendX": 2, "legendY": 5, "symbolType": "square", "symbolSize": 42, "symbolStrokeColor": "black", "symbolStrokeWidth": 1.5, "labelFontSize": 11, "labelFontWeight": "bold", "rowPadding": 0, "labelOffset": 5}}
     }},
    {"data": {"name": "e4APD50"}, "mark": {"type": "rule", "color": "black", "strokeWidth": 1.5},
     "encoding": {"x": {"field": "conc", "type": "nominal", "scale": {"domain": ["10 nM","30 nM","100 nM","300 nM"], "paddingInner": 0, "paddingOuter": 0}, "axis": {"title": "G", "titleX": -49, "titleY": -156}}, "xOffset": {"field": "grp", "type": "nominal"}, "y": {"field": "mean", "type": "quantitative", "scale": {"domain": [-20, 100], "nice": false, "zero": false}, "axis": {"values": [-20,0,20,40,60,80,100], "title": "% change of baseline", "titleX": -34}}, "y2": {"field": "err"}}},
    {"data": {"name": "e4APD50"}, "mark": {"type": "tick", "color": "black", "thickness": 1.5, "size": 6, "opacity": 1, "orient": "horizontal"},
     "encoding": {"x": {"field": "conc", "type": "nominal", "scale": {"domain": ["10 nM","30 nM","100 nM","300 nM"], "paddingInner": 0, "paddingOuter": 0}, "axis": {"title": "G", "titleX": -49, "titleY": -156}}, "xOffset": {"field": "grp", "type": "nominal"}, "y": {"field": "err", "type": "quantitative", "scale": {"domain": [-20, 100], "nice": false, "zero": false}, "axis": {"values": [-20,0,20,40,60,80,100], "title": "% change of baseline", "titleX": -34}}}},
    {"data": {"name": "sigG"}, "mark": {"type": "tick", "color": "black", "thickness": 1.2, "size": 15, "opacity": 1, "orient": "horizontal"},
     "encoding": {"x": {"field": "conc", "type": "nominal", "scale": {"domain": ["10 nM","30 nM","100 nM","300 nM"], "paddingInner": 0, "paddingOuter": 0}, "axis": {"title": "G", "titleX": -49, "titleY": -156}}, "y": {"field": "y", "type": "quantitative", "scale": {"domain": [-20, 100], "nice": false, "zero": false}, "axis": {"values": [-20,0,20,40,60,80,100], "title": "% change of baseline", "titleX": -34}}}},
    {"data": {"name": "sigG"}, "mark": {"type": "text", "fontSize": 11, "fontWeight": "bold", "baseline": "alphabetic", "dy": -1},
     "encoding": {"x": {"field": "conc", "type": "nominal", "scale": {"domain": ["10 nM","30 nM","100 nM","300 nM"], "paddingInner": 0, "paddingOuter": 0}, "axis": {"title": "G", "titleX": -49, "titleY": -156}}, "y": {"field": "y", "type": "quantitative", "scale": {"domain": [-20, 100], "nice": false, "zero": false}, "axis": {"values": [-20,0,20,40,60,80,100], "title": "% change of baseline", "titleX": -34}}, "text": {"field": "label"}}}
   ]}
 ], "spacing": 10, "bounds": "flush",
 "resolve": {"scale": {"color": "independent", "fill": "independent", "xOffset": "independent"}, "legend": {"color": "independent", "fill": "independent"}}},

 {"vconcat": [
  {"width": 151, "height": 16, "data": {"values": []}, "mark": "point"},
  {"width": 151, "height": 99,
   "title": {"text": "APD₉₀", "anchor": "middle", "frame": "group", "dx": -12, "offset": -9},
   "layer": [
    {"data": {"name": "zero"}, "mark": {"type": "rule", "color": "black", "strokeWidth": 1.5}, "encoding": {"y": {"field": "zero", "type": "quantitative", "scale": {"domain": [-100, 0], "nice": false, "zero": false}, "axis": {"values": [-100,-80,-60,-40,-20,0], "title": "% change of baseline", "titleX": -30}}}},
    {"data": {"name": "isoAPD90"}, "mark": {"type": "bar", "stroke": "black", "strokeWidth": 1.5},
     "encoding": {
      "x": {"field": "conc", "type": "nominal", "scale": {"domain": ["30 nM","100 nM","300 nM","1000 nM"], "paddingInner": 0, "paddingOuter": 0}, "axis": {"title": "D", "titleX": -48, "titleY": -133}},
      "xOffset": {"field": "grp", "type": "nominal", "scale": {"domain": ["Vector OE","KCNJ2 OE"], "paddingInner": 0.4, "paddingOuter": 0.45}},
      "y": {"field": "mean", "type": "quantitative", "scale": {"domain": [-100, 0], "nice": false, "zero": false}, "axis": {"values": [-100,-80,-60,-40,-20,0], "title": "% change of baseline", "titleX": -30}},
      "y2": {"datum": 0},
      "fill": {"field": "grp", "type": "nominal", "scale": {"domain": ["Vector OE","KCNJ2 OE"], "range": ["white","black"]},
        "legend": {"title": null, "orient": "none", "legendX": 9, "legendY": 59, "symbolType": "square", "symbolSize": 42, "symbolStrokeColor": "black", "symbolStrokeWidth": 1.5, "labelFontSize": 11, "labelFontWeight": "bold", "rowPadding": 0, "labelOffset": 5}}
     }},
    {"data": {"name": "isoAPD90"}, "mark": {"type": "rule", "color": "black", "strokeWidth": 1.5},
     "encoding": {"x": {"field": "conc", "type": "nominal", "scale": {"domain": ["30 nM","100 nM","300 nM","1000 nM"], "paddingInner": 0, "paddingOuter": 0}, "axis": {"title": "D", "titleX": -48, "titleY": -133}}, "xOffset": {"field": "grp", "type": "nominal"}, "y": {"field": "mean", "type": "quantitative", "scale": {"domain": [-100, 0], "nice": false, "zero": false}, "axis": {"values": [-100,-80,-60,-40,-20,0], "title": "% change of baseline", "titleX": -30}}, "y2": {"field": "err"}}},
    {"data": {"name": "isoAPD90"}, "mark": {"type": "tick", "color": "black", "thickness": 1.5, "size": 6, "opacity": 1, "orient": "horizontal"},
     "encoding": {"x": {"field": "conc", "type": "nominal", "scale": {"domain": ["30 nM","100 nM","300 nM","1000 nM"], "paddingInner": 0, "paddingOuter": 0}, "axis": {"title": "D", "titleX": -48, "titleY": -133}}, "xOffset": {"field": "grp", "type": "nominal"}, "y": {"field": "err", "type": "quantitative", "scale": {"domain": [-100, 0], "nice": false, "zero": false}, "axis": {"values": [-100,-80,-60,-40,-20,0], "title": "% change of baseline", "titleX": -30}}}}
   ]},
  {"width": 151, "height": 136, "data": {"values": []}, "mark": "point"},
  {"width": 151, "height": 99,
   "title": {"text": "APD₉₀", "anchor": "middle", "frame": "group", "dx": -12, "offset": -37},
   "layer": [
    {"data": {"name": "zero"}, "mark": {"type": "rule", "color": "black", "strokeWidth": 1.5}, "encoding": {"y": {"field": "zero", "type": "quantitative", "scale": {"domain": [0, 100], "nice": false, "zero": false}, "axis": {"values": [0,20,40,60,80,100], "title": "% change of baseline", "titleX": -31}}}},
    {"data": {"name": "e4APD90"}, "mark": {"type": "bar", "stroke": "black", "strokeWidth": 1.5},
     "encoding": {
      "x": {"field": "conc", "type": "nominal", "scale": {"domain": ["10 nM","30 nM","100 nM","300 nM"], "paddingInner": 0, "paddingOuter": 0}, "axis": {"title": "H", "titleX": -48, "titleY": -156}},
      "xOffset": {"field": "grp", "type": "nominal", "scale": {"domain": ["Vector OE","KCNJ2 OE"], "paddingInner": 0.4, "paddingOuter": 0.45}},
      "y": {"field": "mean", "type": "quantitative", "scale": {"domain": [0, 100], "nice": false, "zero": false}, "axis": {"values": [0,20,40,60,80,100], "title": "% change of baseline", "titleX": -31}},
      "y2": {"datum": 0},
      "fill": {"field": "grp", "type": "nominal", "scale": {"domain": ["Vector OE","KCNJ2 OE"], "range": ["white","black"]},
        "legend": {"title": null, "orient": "none", "legendX": 10, "legendY": -1, "symbolType": "square", "symbolSize": 42, "symbolStrokeColor": "black", "symbolStrokeWidth": 1.5, "labelFontSize": 11, "labelFontWeight": "bold", "rowPadding": 0, "labelOffset": 5}}
     }},
    {"data": {"name": "e4APD90"}, "mark": {"type": "rule", "color": "black", "strokeWidth": 1.5},
     "encoding": {"x": {"field": "conc", "type": "nominal", "scale": {"domain": ["10 nM","30 nM","100 nM","300 nM"], "paddingInner": 0, "paddingOuter": 0}, "axis": {"title": "H", "titleX": -48, "titleY": -156}}, "xOffset": {"field": "grp", "type": "nominal"}, "y": {"field": "mean", "type": "quantitative", "scale": {"domain": [0, 100], "nice": false, "zero": false}, "axis": {"values": [0,20,40,60,80,100], "title": "% change of baseline", "titleX": -31}}, "y2": {"field": "err"}}},
    {"data": {"name": "e4APD90"}, "mark": {"type": "tick", "color": "black", "thickness": 1.5, "size": 6, "opacity": 1, "orient": "horizontal"},
     "encoding": {"x": {"field": "conc", "type": "nominal", "scale": {"domain": ["10 nM","30 nM","100 nM","300 nM"], "paddingInner": 0, "paddingOuter": 0}, "axis": {"title": "H", "titleX": -48, "titleY": -156}}, "xOffset": {"field": "grp", "type": "nominal"}, "y": {"field": "err", "type": "quantitative", "scale": {"domain": [0, 100], "nice": false, "zero": false}, "axis": {"values": [0,20,40,60,80,100], "title": "% change of baseline", "titleX": -31}}}}
   ]}
 ], "spacing": 10, "bounds": "flush",
 "resolve": {"scale": {"color": "independent", "fill": "independent", "xOffset": "independent"}, "legend": {"color": "independent", "fill": "independent"}}}
 ], "spacing": 209, "bounds": "flush",
 "resolve": {"scale": {"color": "independent", "fill": "independent", "xOffset": "independent"}, "legend": {"color": "independent", "fill": "independent"}}}
 ], "spacing": 201, "bounds": "flush",
 "resolve": {"scale": {"color": "independent", "fill": "independent", "xOffset": "independent"}, "legend": {"color": "independent", "fill": "independent"}}}
]
}
